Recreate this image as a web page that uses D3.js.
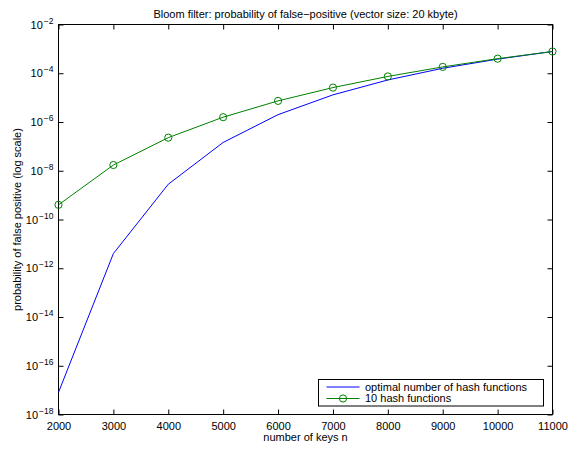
<!DOCTYPE html>
<html>
<head>
<meta charset="utf-8">
<script src="https://cdn.jsdelivr.net/npm/d3@7"></script>
<style>
  body { margin: 0; background: #fff; }
  svg text { font-family: "Liberation Sans", Arial, Helvetica, sans-serif; fill: #000; }
</style>
</head>
<body>
<div id="chart"></div>
<script>
(function () {
  // ---- data ----
  const keys = [2000, 3000, 4000, 5000, 6000, 7000, 8000, 9000, 10000, 11000];
  // probability of false positive, optimal number of hash functions
  const pOptimal = [8.1e-18, 4.0e-12, 2.8e-9, 1.45e-7, 2.0e-6, 1.3e-5, 5.3e-5, 1.6e-4, 3.8e-4, 7.8e-4];
  // probability of false positive, 10 hash functions
  const pTen = [4.0e-10, 1.72e-8, 2.28e-7, 1.58e-6, 7.35e-6, 2.58e-5, 7.4e-5, 1.82e-4, 3.96e-4, 7.81e-4];
  const xTicks = [2000, 3000, 4000, 5000, 6000, 7000, 8000, 9000, 10000, 11000];
  const yExponents = [-2, -4, -6, -8, -10, -12, -14, -16, -18];
  const seriesNames = ["optimal number of hash functions", "10 hash functions"];

  // ---- layout ----
  const W = 584, H = 450;
  const left = 58.5, right = 552.5, top = 24.5, bottom = 414.5;
  const tick = 5;
  const fs = "11px";

  const svg = d3.select("#chart").append("svg")
    .attr("width", W)
    .attr("height", H);

  svg.append("rect").attr("width", W).attr("height", H).attr("fill", "#fff");

  const x = d3.scaleLinear().domain([2000, 11000]).range([left, right]);
  const y = d3.scaleLog().domain([1e-18, 1e-2]).range([bottom, top]);

  const yTickVals = yExponents.map(e => Math.pow(10, e));

  // ---- axes ----
  const xAxis = svg.append("g")
    .attr("transform", `translate(0,${bottom})`)
    .call(d3.axisBottom(x).tickValues(xTicks).tickSize(-tick).tickPadding(8).tickSizeOuter(0).tickFormat(d3.format("d")));
  xAxis.select(".domain").remove();
  xAxis.selectAll("text").style("font-size", fs);

  svg.append("g")
    .attr("transform", `translate(0,${top})`)
    .call(d3.axisTop(x).tickValues(xTicks).tickSize(-tick).tickSizeOuter(0).tickFormat(""))
    .select(".domain").remove();

  const yAxis = svg.append("g")
    .attr("transform", `translate(${left},0)`)
    .call(d3.axisLeft(y).tickValues(yTickVals).tickSize(-tick).tickPadding(5).tickSizeOuter(0).tickFormat(""));
  yAxis.select(".domain").remove();
  yAxis.selectAll(".tick text").each(function (d) {
    const t = d3.select(this).style("font-size", fs);
    t.append("tspan").text("10");
    t.append("tspan")
      .attr("dx", "1")
      .attr("dy", "-5")
      .style("font-size", "8.5px")
      .text("\u2212" + Math.round(-Math.log10(d)));
  });

  svg.append("g")
    .attr("transform", `translate(${right},0)`)
    .call(d3.axisRight(y).tickValues(yTickVals).tickSize(-tick).tickSizeOuter(0).tickFormat(""))
    .select(".domain").remove();

  svg.selectAll(".tick line").attr("stroke", "#000");

  // box
  svg.append("rect")
    .attr("x", left).attr("y", top)
    .attr("width", right - left).attr("height", bottom - top)
    .attr("fill", "none").attr("stroke", "#000").attr("stroke-width", 1);

  // ---- lines ----
  const line = d3.line().x(d => x(d[0])).y(d => y(d[1]));

  svg.append("path")
    .datum(keys.map((k, i) => [k, pOptimal[i]]))
    .attr("d", line)
    .attr("fill", "none").attr("stroke", "#0000ff").attr("stroke-width", 1);

  const tenData = keys.map((k, i) => [k, pTen[i]]);
  svg.append("path")
    .datum(tenData)
    .attr("d", line)
    .attr("fill", "none").attr("stroke", "#008000").attr("stroke-width", 1);

  svg.selectAll("circle.m")
    .data(tenData)
    .join("circle")
    .attr("class", "m")
    .attr("cx", d => x(d[0]))
    .attr("cy", d => y(d[1]))
    .attr("r", 3.6)
    .attr("fill", "none").attr("stroke", "#008000").attr("stroke-width", 1);

  // ---- text ----
  svg.append("text")
    .attr("x", (left + right) / 2).attr("y", 18)
    .attr("text-anchor", "middle")
    .style("font-size", fs)
    .text("Bloom filter: probability of false\u2212positive (vector size: 20 kbyte)");

  svg.append("text")
    .attr("x", (left + right) / 2).attr("y", 441)
    .attr("text-anchor", "middle")
    .style("font-size", fs)
    .text("number of keys n");

  svg.append("text")
    .attr("transform", `translate(21,${(top + bottom) / 2}) rotate(-90)`)
    .attr("text-anchor", "middle")
    .style("font-size", fs)
    .text("probability of false positive (log scale)");

  // ---- legend ----
  const lg = svg.append("g").attr("transform", "translate(318.5,379.5)");
  lg.append("rect")
    .attr("width", 225).attr("height", 26.5)
    .attr("fill", "#fff").attr("stroke", "#000").attr("stroke-width", 1);
  const colors = ["#0000ff", "#008000"];
  const rowsY = [7.5, 19];
  seriesNames.forEach((name, i) => {
    lg.append("line")
      .attr("x1", 8).attr("x2", 41)
      .attr("y1", rowsY[i]).attr("y2", rowsY[i])
      .attr("stroke", colors[i]).attr("stroke-width", 1);
    if (i === 1) {
      lg.append("circle")
        .attr("cx", 24.5).attr("cy", rowsY[i]).attr("r", 3.6)
        .attr("fill", "none").attr("stroke", colors[i]).attr("stroke-width", 1);
    }
    lg.append("text")
      .attr("x", 46.5).attr("y", rowsY[i]).attr("dy", "0.35em")
      .style("font-size", fs)
      .text(name);
  });
})();
</script>
</body>
</html>
